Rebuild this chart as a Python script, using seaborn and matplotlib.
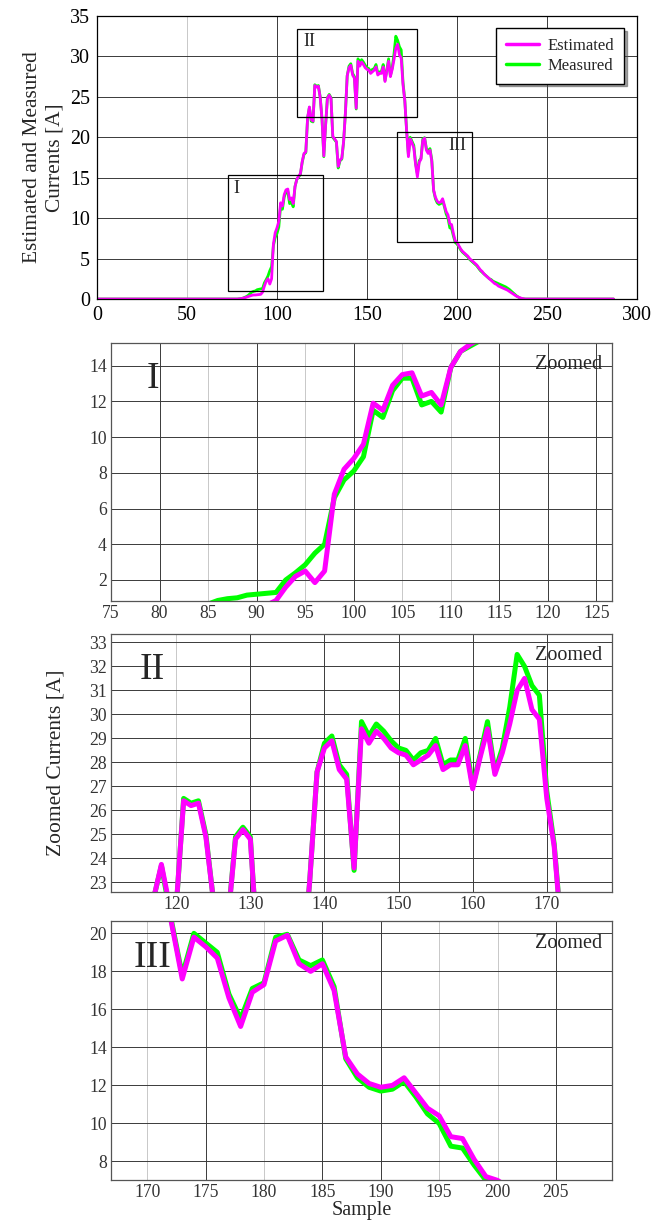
import numpy as np
import pandas as pd
import matplotlib
matplotlib.use("Agg")
import matplotlib.pyplot as plt
from matplotlib.patches import Rectangle
from matplotlib.lines import Line2D
import seaborn as sns

# samples 0..287, values outside the active part are zero
n_samples = 288
start = 78

# estimated current, samples 78..238
estimated = [
    0.0, 0.02, 0.05, 0.1, 0.15, 0.22, 0.3, 0.38, 0.45, 0.5,
    0.5, 0.52, 0.55, 0.58, 0.85, 1.6, 2.2, 2.5, 1.85, 2.5,
    6.8, 8.2, 8.8, 9.6, 11.9, 11.5, 12.9, 13.5, 13.6, 12.3,
    12.5, 11.8, 13.9, 14.8, 15.2, 15.5, 17.0, 18.0, 18.2, 22.4,
    23.75, 22.2, 22.0, 26.4, 26.2, 26.3, 24.9, 22.3, 17.7, 21.5,
    24.8, 25.2, 24.8, 20.1, 19.8, 19.5, 16.4, 17.2, 17.4, 19.5,
    23.0, 27.6, 28.6, 28.9, 27.7, 27.3, 23.6, 29.4, 28.8, 29.3,
    29.0, 28.6, 28.4, 28.3, 27.9, 28.1, 28.3, 28.7, 27.7, 27.9,
    27.9, 28.7, 26.9, 28.2, 29.4, 27.5, 28.4, 29.6, 31.0, 31.5,
    30.2, 29.8, 26.5, 24.5, 20.8, 17.6, 19.8, 19.3, 18.7, 16.6,
    15.1, 16.9, 17.3, 19.6, 19.9, 18.4, 18.0, 18.4, 17.0, 13.5,
    12.6, 12.1, 11.9, 12.0, 12.4, 11.6, 10.8, 10.4, 9.3, 9.2,
    8.1, 7.2, 7.0, 6.6, 6.2, 5.9, 5.7, 5.5, 5.3, 5.0,
    4.8, 4.6, 4.4, 4.2, 3.9, 3.6, 3.4, 3.1, 2.9, 2.7,
    2.5, 2.3, 2.1, 1.9, 1.8, 1.6, 1.5, 1.4, 1.3, 1.2,
    1.1, 0.95, 0.8, 0.65, 0.5, 0.35, 0.25, 0.15, 0.08, 0.03,
    0.0,
]

# measured current, samples 78..238
measured = [
    0.0, 0.02, 0.05, 0.1, 0.2, 0.3, 0.45, 0.65, 0.85, 0.95,
    1.0, 1.15, 1.2, 1.25, 1.3, 2.0, 2.4, 2.85, 3.5, 4.0,
    6.6, 7.6, 8.1, 8.9, 11.5, 11.1, 12.6, 13.3, 13.3, 11.8,
    12.0, 11.4, 13.9, 14.8, 15.1, 15.4, 16.9, 17.9, 18.1, 22.4,
    23.7, 22.0, 21.9, 26.5, 26.3, 26.4, 25.0, 22.3, 17.6, 21.5,
    24.9, 25.3, 24.9, 20.0, 19.7, 19.4, 16.2, 17.1, 17.3, 19.4,
    23.0, 27.6, 28.8, 29.1, 27.9, 27.5, 23.5, 29.7, 29.1, 29.6,
    29.3, 28.9, 28.6, 28.5, 28.1, 28.4, 28.5, 29.0, 27.9, 28.1,
    28.1, 29.0, 27.0, 28.3, 29.7, 27.6, 28.6, 30.3, 32.5, 32.0,
    31.2, 30.8, 26.8, 24.6, 20.9, 17.8, 20.0, 19.5, 19.0, 16.8,
    15.5, 17.1, 17.4, 19.8, 19.95, 18.6, 18.3, 18.6, 17.2, 13.4,
    12.4, 11.9, 11.7, 11.8, 12.2, 11.4, 10.5, 10.0, 8.8, 8.7,
    7.8, 7.0, 6.8, 6.5, 6.1, 5.8, 5.6, 5.4, 5.2, 4.9,
    4.7, 4.5, 4.3, 4.1, 3.8, 3.5, 3.3, 3.1, 2.9, 2.7,
    2.5, 2.4, 2.2, 2.1, 2.0, 1.9, 1.8, 1.7, 1.6, 1.5,
    1.35, 1.2, 1.0, 0.8, 0.6, 0.4, 0.25, 0.12, 0.05, 0.02,
    0.0,
]

# zoom windows drawn on the overview: (x0, x1, y0, y1)
boxes = {"I": (73, 125.3, 0.95, 15.3),
         "II": (111.3, 177.5, 22.5, 33.4),
         "III": (166.5, 208.2, 7.1, 20.7)}
box_labels = {"I": (77.5, 13.7), "II": (118, 31.8), "III": (200, 19.0)}

# axis limits of the zoomed panels
zoom_xlim = {"I": (75, 126.6), "II": (111.2, 178.8), "III": (166.9, 209.8)}
zoom_ylim = {"I": (0.82, 15.27), "II": (22.6, 33.35), "III": (7.02, 20.65)}
zoom_xticks = {"I": np.arange(75, 130, 5), "II": np.arange(120, 180, 10),
               "III": np.arange(170, 210, 5)}
zoom_yticks = {"I": np.arange(2, 16, 2), "II": np.arange(23, 34, 1),
               "III": np.arange(8, 21, 2)}
light_x = {"I": [85, 95, 105, 110], "II": [120], "III": [170, 180, 195, 200]}


def full_series(vals):
    s = np.zeros(n_samples)
    s[start:start + len(vals)] = vals
    return s


def grid_lines(ax, xticks, light_ticks, lo, hi):
    # horizontal grid from the y ticks, vertical lines drawn per tick so some can be paler
    ax.grid(True, axis="y", color=dark, lw=0.7)
    for xt in xticks:
        if lo < xt < hi:
            ax.axvline(xt, color=light if xt in light_ticks else dark, lw=0.7, zorder=0.5)


sample = np.arange(n_samples)
df = pd.concat([
    pd.DataFrame({"Sample": sample, "Current": full_series(measured), "series": "Measured"}),
    pd.DataFrame({"Sample": sample, "Current": full_series(estimated), "series": "Estimated"}),
])

sns.set_theme(style="white")
plt.rcParams["font.family"] = ["Liberation Serif", "DejaVu Serif"]

colors = {"Measured": "#00ff00", "Estimated": "#ff00ff"}
dark = "#3a3a3a"
light = "#c8c8c8"

fig = plt.figure(figsize=(6.56, 12.2), dpi=100)

# overview panel
ax0 = fig.add_axes([97 / 656, 1 - 299 / 1220, 540 / 656, 283 / 1220])
sns.lineplot(data=df, x="Sample", y="Current", hue="series", palette=colors,
             hue_order=["Measured", "Estimated"], lw=2.0, ax=ax0, legend=False)
ax0.set_xlim(0, 300)
ax0.set_ylim(0, 35)
ax0.set_xticks(np.arange(0, 301, 50))
ax0.set_yticks(np.arange(0, 36, 5))
grid_lines(ax0, np.arange(0, 301, 50), [50], 0, 300)
ax0.tick_params(labelsize=14.4, colors="black", direction="in", length=0, pad=5)
ax0.set_xlabel("")
ax0.set_ylabel("Estimated and Measured\nCurrents [A]", fontsize=15.4, labelpad=4,
               linespacing=1.25)
for sp in ax0.spines.values():
    sp.set_color("black")
    sp.set_linewidth(0.9)
for key, (x0, x1, y0, y1) in boxes.items():
    ax0.add_patch(Rectangle((x0, y0), x1 - x0, y1 - y0, fill=False,
                            ec="black", lw=0.9, zorder=5))
    lx, ly = box_labels[key]
    ax0.text(lx, ly, key, fontsize=13, ha="center", va="center", zorder=6)
handles = [Line2D([], [], color=colors["Estimated"], lw=2.5),
           Line2D([], [], color=colors["Measured"], lw=2.5)]
leg = ax0.legend(handles, ["Estimated", "Measured"], loc="upper right",
                 bbox_to_anchor=(0.976, 0.958), borderaxespad=0, fontsize=12,
                 frameon=True, fancybox=False, shadow=True, handlelength=2.0,
                 borderpad=0.6, labelspacing=0.22, handletextpad=0.5)
leg.get_frame().set_edgecolor("black")
leg.get_frame().set_linewidth(1.0)

# zoomed panels
tops = [343, 634, 921]
bottoms = [601, 892, 1180]
for key, top, bot in zip(["I", "II", "III"], tops, bottoms):
    ax = fig.add_axes([111 / 656, 1 - bot / 1220, 501 / 656, (bot - top) / 1220])
    sns.lineplot(data=df, x="Sample", y="Current", hue="series", palette=colors,
                 hue_order=["Measured", "Estimated"], lw=3.6, ax=ax, legend=False)
    ax.set_xlim(*zoom_xlim[key])
    ax.set_ylim(*zoom_ylim[key])
    ax.set_xticks(zoom_xticks[key])
    ax.set_yticks(zoom_yticks[key])
    grid_lines(ax, zoom_xticks[key], light_x[key], *zoom_xlim[key])
    ax.tick_params(labelsize=12.7, colors="#333333", direction="in", length=0, pad=3)
    for sp in ax.spines.values():
        sp.set_color("#555555")
        sp.set_linewidth(0.9)
    ax.set_xlabel("")
    ax.set_ylabel("")
    ax.text(0.98, 0.915, "Zoomed", transform=ax.transAxes, fontsize=14.5,
            ha="right", va="center")
    ax.text(0.083, 0.86, key, transform=ax.transAxes, fontsize=27,
            ha="center", va="center")
    if key == "II":
        ax.set_ylabel("Zoomed Currents [A]", fontsize=15.5, labelpad=17)
    if key == "III":
        ax.set_xlabel("Sample", fontsize=14.5, labelpad=0)

fig.savefig("out.png", dpi=100)
